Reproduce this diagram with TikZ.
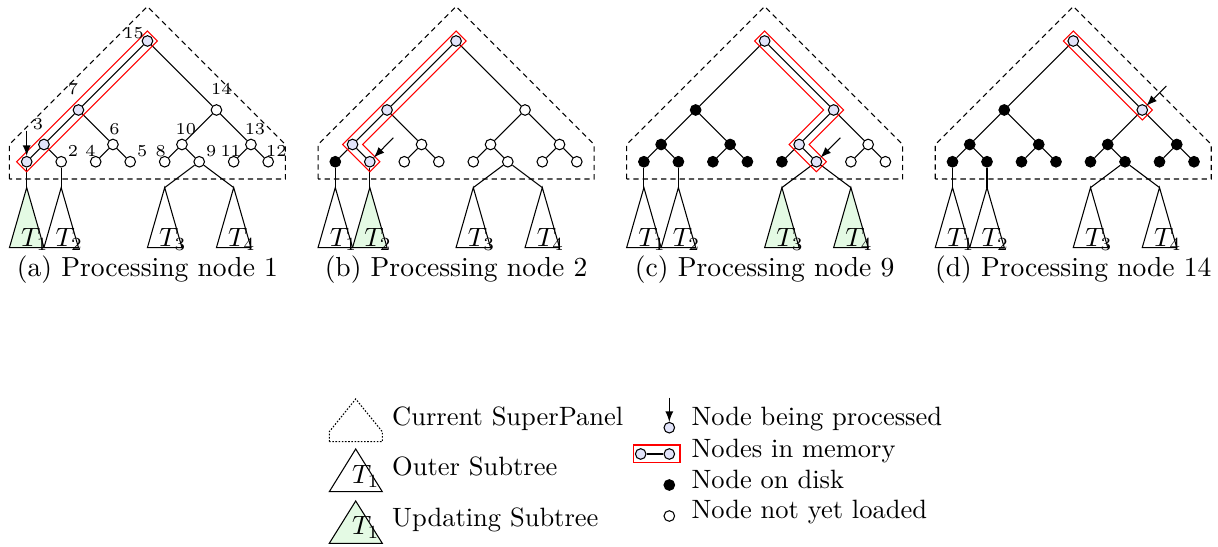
\documentclass[tikz,border=0pt]{standalone}
\usepackage{fontspec}
\definecolor{memBlue}{RGB}{226,228,250}
\definecolor{updGreen}{RGB}{228,250,228}
\tikzset{
  tnode/.style={circle, draw, fill=white, minimum size=4pt, inner sep=0pt},
  memnode/.style={fill=memBlue},
  disknode/.style={fill=black},
  superpanel/.style={dash pattern=on 2pt off 1.5pt},
  subtree/.style={fill=white},
  updating/.style={fill=updGreen},
  memband/.style={red},
  procarrow/.style={-latex},
  numlabel/.style={font=\fontsize{6.3}{7}\selectfont, inner sep=0pt},
  tlabel/.style={anchor=base west, inner sep=0pt},
  legtext/.style={anchor=base west, inner sep=0pt},
  captext/.style={anchor=base, inner sep=0pt, font=\fontsize{10.4}{12}\selectfont},
  % node and subtree states, set again in each panel
  s1/.style={}, s2/.style={}, s3/.style={}, s4/.style={}, s5/.style={},
  s6/.style={}, s7/.style={}, s8/.style={}, s9/.style={}, s10/.style={},
  s11/.style={}, s12/.style={}, s13/.style={}, s14/.style={}, s15/.style={},
  u1/.style={}, u2/.style={}, u3/.style={}, u4/.style={}
}

% one superpanel with its tree and the four outer subtrees
\newcommand{\treepanel}[1]{%
  % superpanel outline
  \draw[superpanel] (9.45,179) -- (9.45,144.5) -- (147.45,6.5) -- (285.45,144.5) -- (285.45,179) -- cycle;
  % tree nodes
  \foreach \n/\x/\y in {1/26.7/161.75, 2/61.2/161.75, 3/43.95/144.5, 4/95.7/161.75,
      5/130.2/161.75, 6/112.95/144.5, 7/78.45/110, 8/164.7/161.75, 9/199.2/161.75,
      10/181.95/144.5, 11/233.7/161.75, 12/268.2/161.75, 13/250.95/144.5,
      14/216.45/110, 15/147.45/41}
    \node[tnode, s\n] (#1n\n) at (\x,\y) {};
  \foreach \u/\v in {15/7, 15/14, 7/3, 7/6, 3/1, 3/2, 6/4, 6/5,
      14/10, 14/13, 10/8, 10/9, 13/11, 13/12}
    \draw (#1n\u) -- (#1n\v);
  % outer subtrees
  \foreach \k/\x in {1/26.7, 2/61.2, 3/164.7, 4/233.7} {
    \coordinate (#1r\k) at (\x,187.6);
    \draw[subtree, u\k] (#1r\k) -- ++(-17.25,60) -- ++(34.5,0) -- cycle;
    \node[tlabel] (#1T\k) at ([shift={(-6,59)}]#1r\k) {$T_\k$};
  }
  \draw (#1n1) -- (#1r1);
  \draw (#1n2) -- (#1r2);
  \draw (#1n9) -- (#1r3);
  \draw (#1n9) -- (#1r4);
}

\begin{document}
\begin{tikzpicture}[x=0.3774pt, y=-0.3774pt]
  \useasboundingbox (0,0) rectangle (1218,547);

  % (a) processing node 1
  \begin{scope}[s1/.style=memnode, s3/.style=memnode, s7/.style=memnode,
      s15/.style=memnode, u1/.style=updating]
    \treepanel{a}
    \draw[memband] ([shift={(-10,0)}]an1.center) -- ([shift={(0,-10)}]an15.center)
      -- ([shift={(10,0)}]an15.center) -- ([shift={(0,10)}]an1.center) -- cycle;
    \coordinate (aarr) at ([shift={(0,-31)}]an1.center);
    \draw[procarrow] (aarr) -- (an1);
    % node numbers
    \foreach \n/\dx/\dy in {15/-13.8/-7.7, 7/-5.6/-21.3, 14/4.9/-21.3, 3/-6/-20.5,
        6/1.5/-15.2, 10/3.9/-15.2, 13/4/-15.2, 2/11.8/-10.4, 4/-5.2/-10.4,
        5/12/-10.4, 8/-3.9/-10.4, 9/12.1/-10.4, 11/-3/-10.4, 12/8.1/-10.4}
      \node[numlabel] (al\n) at ([shift={(\dx,\dy)}]an\n.center) {\n};
    \node[captext] (acap) at (147.45,277) {(a) Processing node 1};
  \end{scope}

  % (b) processing node 2
  \begin{scope}[shift={(308.6,0)}, s1/.style=disknode, s2/.style=memnode,
      s3/.style=memnode, s7/.style=memnode, s15/.style=memnode, u2/.style=updating]
    \treepanel{b}
    \draw[memband] ([shift={(0,-10)}]bn15.center) -- ([shift={(-10,0)}]bn3.center)
      -- ([shift={(0,10)}]bn2.center) -- ([shift={(10,0)}]bn2.center)
      -- ([shift={(10,0)}]bn3.center) -- ([shift={(10,0)}]bn15.center) -- cycle;
    \coordinate (barr) at ([shift={(23.5,-24)}]bn2.center);
    \draw[procarrow] (barr) -- (bn2);
    \node[captext] (bcap) at (147.45,277) {(b) Processing node 2};
  \end{scope}

  % (c) processing node 9
  \begin{scope}[shift={(617.2,0)}, s1/.style=disknode, s2/.style=disknode,
      s3/.style=disknode, s4/.style=disknode, s5/.style=disknode, s6/.style=disknode,
      s7/.style=disknode, s8/.style=disknode, s9/.style=memnode, s10/.style=memnode,
      s14/.style=memnode, s15/.style=memnode, u3/.style=updating, u4/.style=updating]
    \treepanel{c}
    \draw[memband] ([shift={(0,-10)}]cn15.center) -- ([shift={(10,0)}]cn14.center)
      -- ([shift={(10,0)}]cn10.center) -- ([shift={(10,0)}]cn9.center)
      -- ([shift={(0,10)}]cn9.center) -- ([shift={(-10,0)}]cn10.center)
      -- ([shift={(-10,0)}]cn14.center) -- ([shift={(-10,0)}]cn15.center) -- cycle;
    \coordinate (carr) at ([shift={(24,-24)}]cn9.center);
    \draw[procarrow] (carr) -- (cn9);
    \node[captext] (ccap) at (147.45,277) {(c) Processing node 9};
  \end{scope}

  % (d) processing node 14
  \begin{scope}[shift={(925.8,0)}, s1/.style=disknode, s2/.style=disknode,
      s3/.style=disknode, s4/.style=disknode, s5/.style=disknode, s6/.style=disknode,
      s7/.style=disknode, s8/.style=disknode, s9/.style=disknode, s10/.style=disknode,
      s11/.style=disknode, s12/.style=disknode, s13/.style=disknode,
      s14/.style=memnode, s15/.style=memnode]
    \treepanel{d}
    \draw[memband] ([shift={(0,-10)}]dn15.center) -- ([shift={(10,0)}]dn14.center)
      -- ([shift={(0,10)}]dn14.center) -- ([shift={(-10,0)}]dn15.center) -- cycle;
    \coordinate (darr) at ([shift={(24,-24)}]dn14.center);
    \draw[procarrow] (darr) -- (dn14);
    \node[captext] (dcap) at (147.45,277) {(d) Processing node 14};
  \end{scope}

  % legend, left column
  \draw[dash pattern=on 0.6pt off 0.6pt] (329.3,441.7) -- (329.3,431.7) -- (355.7,399)
    -- (382.3,431.7) -- (382.3,441.7) -- cycle;
  \draw[subtree] (355.7,449) -- (329.3,491.7) -- (382.3,491.7) -- cycle;
  \node[tlabel] (legTo) at (351.7,483.3) {$T_1$};
  \draw[subtree, updating] (355.7,501) -- (329.3,543.3) -- (382.3,543.3) -- cycle;
  \node[tlabel] (legTu) at (351.7,535) {$T_1$};
  \node[legtext] (legSP) at (391.7,425.7) {Current SuperPanel};
  \node[legtext] (legOut) at (391.7,475.7) {Outer Subtree};
  \node[legtext] (legUpd) at (391.7,526.7) {Updating Subtree};

  % legend, right column
  \node[tnode, memnode] (legProc) at (669.3,427.7) {};
  \coordinate (legArr) at (669.3,397.7);
  \draw[procarrow] (legArr) -- (legProc);
  \node[tnode, memnode] (legMemA) at (640.7,454) {};
  \node[tnode, memnode] (legMemB) at (669.3,454) {};
  \draw[line width=0.8pt] (legMemA) -- (legMemB);
  \draw[memband] (633.3,445) rectangle (680,462.3);
  \node[tnode, disknode] (legDisk) at (669.3,485) {};
  \node[tnode] (legNew) at (669.3,516) {};
  \node[legtext] (legPr) at (691,425.7) {Node being processed};
  \node[legtext] (legMem) at (691,457.3) {Nodes in memory};
  \node[legtext] (legDk) at (691,488.3) {Node on disk};
  \node[legtext] (legNl) at (691,519) {Node not yet loaded};
\end{tikzpicture}
\end{document}
